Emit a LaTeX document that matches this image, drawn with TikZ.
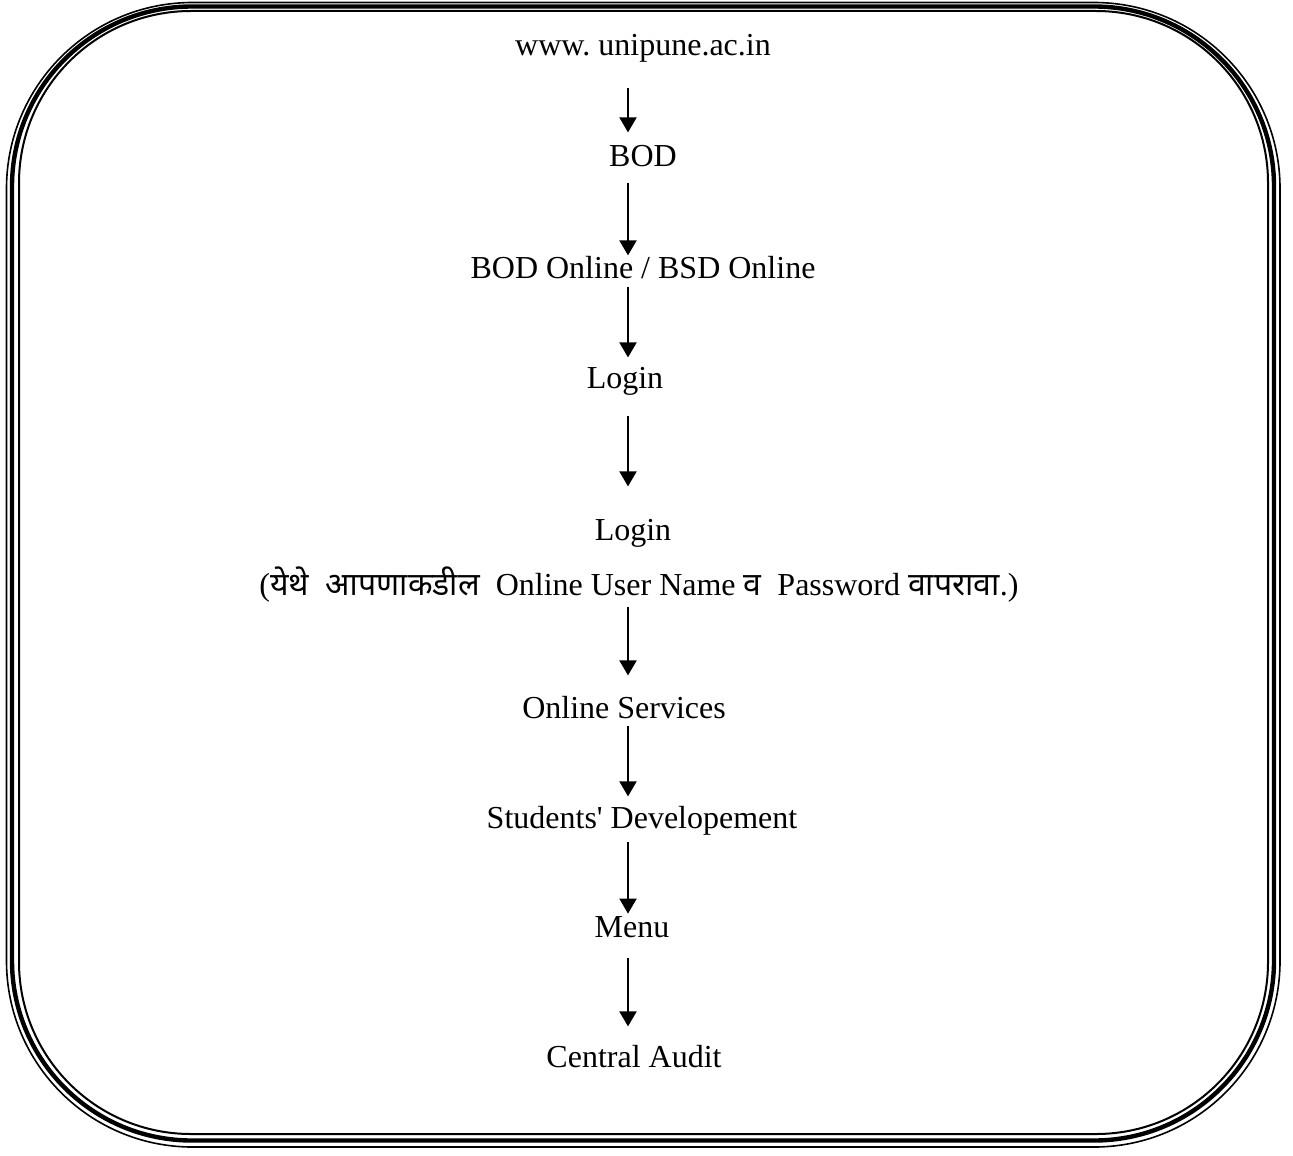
\documentclass[tikz,border=0pt]{standalone}
\usepackage{fontspec}
\setmainfont{Liberation Serif}
\newfontfamily\devfont[Script=Devanagari]{Noto Sans}
\usetikzlibrary{arrows.meta}

\begin{document}
\begin{tikzpicture}[x=0.5pt,y=-0.5pt,
    every node/.style={font=\fontsize{16}{20}\selectfont,anchor=base,inner sep=0pt},
    flow/.style={-{Triangle[width=8.5pt,length=7.5pt]},line width=1pt}]
  \useasboundingbox (0,0) rectangle (1293,1155);

  % triple frame
  \draw [line width=0.8pt,rounded corners=93pt] (6.5,2.5) rectangle (1280,1147);
  \draw [line width=2.2pt,rounded corners=90pt] (12,6.5) rectangle (1274,1140.5);
  \draw [line width=1pt,rounded corners=86pt] (19,11) rectangle (1268,1134);

  \node (www) at (643,56) {www.\ unipune.ac.in};
  \node (bod) at (643,167) {BOD};
  \node (online) at (643,278) {BOD Online / BSD Online};
  \node (login) at (625,388) {Login};
  \node (login2) at (633,540) {Login};
  \node (note) at (639,595) {({\devfont येथे\ \ आपणाकडील}\ \ Online User Name {\devfont व}\ \ Password {\devfont वापरावा}.)};
  \node (serv) at (624,718) {Online Services};
  \node (dev) at (642,828) {Students\textquotesingle{} Developement};
  \node (menu) at (632,937) {Menu};
  \node (audit) at (634,1067) {Central Audit};

  \coordinate (ax) at (628,0);

  \draw [flow,shorten <=12.5pt,shorten >=6.5pt] (www.south -| ax) -- (bod.north -| ax);
  \draw [flow,shorten <=7.5pt,shorten >=0pt] (bod.south -| ax) -- (online.north -| ax);
  \draw [flow,shorten <=4pt,shorten >=4.5pt] (online.south -| ax) -- (login.north -| ax);
  \draw [flow,shorten <=10.5pt,shorten >=16pt] (login.south -| ax) -- (login2.north -| ax);
  \draw [flow,shorten <=2.5pt,shorten >=10pt] (note.south -| ax) -- (serv.north -| ax);
  \draw [flow,shorten <=3.5pt,shorten >=4.5pt] (serv.south -| ax) -- (dev.north -| ax);
  \draw [flow,shorten <=3.5pt,shorten >=1pt] (dev.south -| ax) -- (menu.north -| ax);
  \draw [flow,shorten <=10pt,shorten >=9pt] (menu.south -| ax) -- (audit.north -| ax);
\end{tikzpicture}
\end{document}
